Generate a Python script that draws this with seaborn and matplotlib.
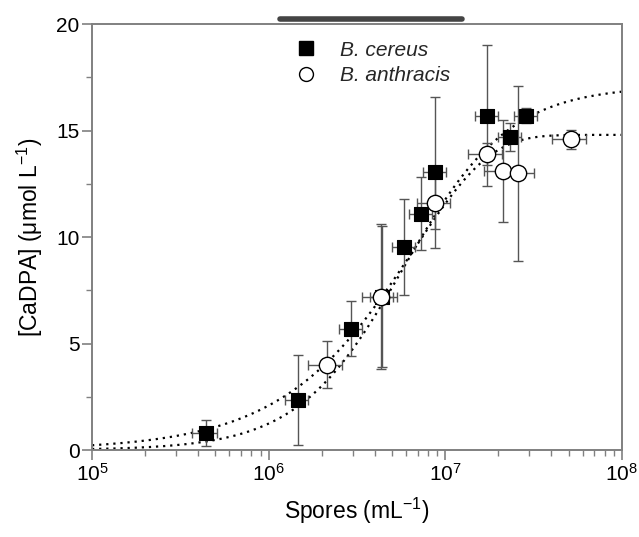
import numpy as np
import matplotlib
matplotlib.use("Agg")
import matplotlib.pyplot as plt
import seaborn as sns
from matplotlib.lines import Line2D
from matplotlib.ticker import LogLocator, MultipleLocator

sns.set_theme(style="ticks")
plt.rcParams['font.family'] = ['Liberation Sans', 'DejaVu Sans']
plt.rcParams['mathtext.fontset'] = 'custom'
plt.rcParams['mathtext.rm'] = 'Liberation Sans'
plt.rcParams['mathtext.it'] = 'Liberation Sans:italic'

# B. cereus (filled squares)
cereus_x = [4.4e5, 1.46e6, 2.94e6, 4.4e6, 5.86e6, 7.3e6, 8.8e6, 1.73e7, 2.33e7, 2.87e7]
cereus_y = [0.8, 2.35, 5.7, 7.2, 9.55, 11.1, 13.05, 15.7, 14.7, 15.7]
cereus_xerr = [0.7e5, 2.2e5, 4.4e5, 6.6e5, 8.8e5, 1.1e6, 1.3e6, 2.6e6, 3.5e6, 4.3e6]
cereus_yerr = [0.6, 2.1, 1.3, 3.3, 2.25, 1.7, 3.55, 3.3, 0.65, 0.35]

# B. anthracis (open circles)
anthracis_x = [2.15e6, 4.35e6, 8.8e6, 1.73e7, 2.13e7, 2.6e7, 5.15e7]
anthracis_y = [4.0, 7.2, 11.6, 13.9, 13.1, 13.0, 14.6]
anthracis_xerr = [4.7e5, 9.6e5, 1.9e6, 3.8e6, 4.7e6, 5.7e6, 1.1e7]
anthracis_yerr = [1.1, 3.4, 1.2, 0.5, 2.4, 4.1, 0.45]

# fitted curves (parameters of the fits)
cereus_fit = dict(vmax=17.1, k=5.8e6, n=1.45)      # Hill
anthracis_fit = dict(vmax=14.8, rate=1.52e-7)      # single exponential rise

x_fit = np.logspace(5, 8, 400)
cereus_curve = cereus_fit['vmax'] * x_fit ** cereus_fit['n'] / (cereus_fit['k'] ** cereus_fit['n'] + x_fit ** cereus_fit['n'])
anthracis_curve = anthracis_fit['vmax'] * (1 - np.exp(-anthracis_fit['rate'] * x_fit))

fig = plt.figure(figsize=(6.39, 5.37), dpi=100)
ax = fig.add_axes([0.144, 0.162, 0.829, 0.793])

sns.lineplot(x=x_fit, y=cereus_curve, ax=ax, color='black', linestyle=(0, (1, 2.2)), linewidth=1.6)
sns.lineplot(x=x_fit, y=anthracis_curve, ax=ax, color='black', linestyle=(0, (1, 2.2)), linewidth=1.6)

err_kw = dict(fmt='none', ecolor='#555555', elinewidth=1.0, capsize=3.5, capthick=1.0, zorder=2)
ax.errorbar(cereus_x, cereus_y, xerr=cereus_xerr, yerr=cereus_yerr, **err_kw)
ax.errorbar(anthracis_x, anthracis_y, xerr=anthracis_xerr, yerr=anthracis_yerr, **err_kw)

sns.scatterplot(x=cereus_x, y=cereus_y, ax=ax, marker='s', s=112, color='black',
                edgecolor='black', linewidth=0.8, zorder=3)
sns.scatterplot(x=anthracis_x, y=anthracis_y, ax=ax, marker='o', s=138, facecolor='white',
                edgecolor='black', linewidth=1.0, zorder=4)

ax.set_xscale('log')
ax.set_xlim(1e5, 1e8)
ax.set_ylim(0, 20)
ax.xaxis.set_major_locator(LogLocator(base=10, numticks=10))
ax.xaxis.set_minor_locator(LogLocator(base=10, subs=np.arange(2, 10), numticks=10))
ax.yaxis.set_major_locator(MultipleLocator(5))
ax.yaxis.set_minor_locator(MultipleLocator(2.5))

for sp in ax.spines.values():
    sp.set_color('#808080')
    sp.set_linewidth(1.4)
ax.tick_params(which='major', direction='out', length=7, width=1.2, color='#808080',
               labelsize=15, labelcolor='black', pad=2, top=False, right=False)
ax.tick_params(which='minor', direction='out', length=4, width=1.0, color='#808080',
               top=False, right=False)

ax.set_xlabel('Spores (mL$^{-1}$)', fontsize=16.5, labelpad=8, color='black')
ax.set_ylabel('[CaDPA] (\u03bcmol L$^{-1}$)', fontsize=16.5, labelpad=8, color='black')

handles = [
    Line2D([], [], marker='s', linestyle='none', markersize=10, color='black'),
    Line2D([], [], marker='o', linestyle='none', markersize=10, markerfacecolor='white',
           markeredgecolor='black'),
]
ax.legend(handles, ['B. cereus', 'B. anthracis'], loc='upper left', bbox_to_anchor=(0.33, 1.005),
          frameon=False, prop={'size': 15, 'style': 'italic'}, handletextpad=0.6,
          labelspacing=0.3)

fig.add_artist(Line2D([280 / 639, 462 / 639], [1 - 19 / 537, 1 - 19 / 537], color='#444444',
                      linewidth=4, solid_capstyle='round'))

fig.savefig('out.png', dpi=100)
